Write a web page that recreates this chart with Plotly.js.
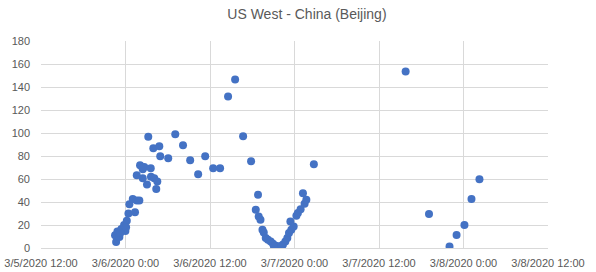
<!DOCTYPE html>
<html>
<head>
<meta charset="utf-8">
<script src="https://cdn.plot.ly/plotly-3.0.1.min.js"></script>
<style>html,body{margin:0;padding:0;background:#fff;}#chart{width:596px;height:272px;}</style>
</head>
<body>
<div id="chart"></div>
<script>
var times = [
"2020-03-05 22:31","2020-03-05 22:40","2020-03-05 22:51","2020-03-05 23:08","2020-03-05 23:25",
"2020-03-05 23:48","2020-03-05 23:59","2020-03-06 00:11","2020-03-06 00:25","2020-03-06 00:33",
"2020-03-06 01:02","2020-03-06 01:21","2020-03-06 01:36","2020-03-06 01:58","2020-03-06 01:36",
"2020-03-06 02:04","2020-03-06 02:27","2020-03-06 02:40","2020-03-06 02:27","2020-03-06 03:03",
"2020-03-06 03:14","2020-03-06 03:35","2020-03-06 03:37","2020-03-06 03:57","2020-03-06 04:05",
"2020-03-06 04:22","2020-03-06 04:31","2020-03-06 04:48","2020-03-06 04:56","2020-03-06 06:04",
"2020-03-06 07:04","2020-03-06 08:10","2020-03-06 09:11","2020-03-06 10:19","2020-03-06 11:19",
"2020-03-06 12:27","2020-03-06 13:26","2020-03-06 14:34","2020-03-06 15:34","2020-03-06 16:42",
"2020-03-06 17:50","2020-03-06 18:49","2020-03-06 18:30","2020-03-06 18:55","2020-03-06 19:10",
"2020-03-06 19:27","2020-03-06 19:38","2020-03-06 19:55","2020-03-06 20:14","2020-03-06 20:37",
"2020-03-06 20:57","2020-03-06 21:20","2020-03-06 21:39","2020-03-06 22:02","2020-03-06 22:22",
"2020-03-06 22:42","2020-03-06 22:59","2020-03-06 23:13","2020-03-06 23:25","2020-03-06 23:33",
"2020-03-06 23:53","2020-03-07 00:16","2020-03-07 00:29","2020-03-07 00:52","2020-03-07 01:12",
"2020-03-07 01:26","2020-03-07 01:41","2020-03-07 02:45","2020-03-07 15:47","2020-03-07 19:06",
"2020-03-07 22:01","2020-03-07 23:01","2020-03-08 00:08","2020-03-08 01:08","2020-03-08 02:16",
"2020-03-06 21:50","2020-03-06 21:05","2020-03-06 22:12","2020-03-05 23:15","2020-03-06 00:05"
];
var latency = [
11,5.2,14.4,9.5,16.5,
20,14.7,23.7,30,38,
42.7,31,41.3,41.3,63.3,
72,68.5,70.5,60.7,55.2,
96.8,69.4,62,86.7,60.7,
51.2,57.8,88.5,79.8,78,
98.9,89.3,76.3,64.2,79.8,
69.4,69.4,131.8,146.6,97.1,
75.5,46.2,33.2,27.4,24.5,
15.9,13.5,8.7,7.2,5.7,
3.7,2,1.4,1.4,3,
5.7,8.7,13,23,15.9,
18.7,28,30.4,33.8,47.7,
38.4,41.9,72.9,153.5,29.5,
1.4,11.3,20,42.5,59.8,
1.2,1.6,1.8,13,18
];
var xTicks = ["2020-03-05 12:00","2020-03-06 00:00","2020-03-06 12:00","2020-03-07 00:00","2020-03-07 12:00","2020-03-08 00:00","2020-03-08 12:00"];
var xTickText = ["3/5/2020 12:00","3/6/2020 0:00","3/6/2020 12:00","3/7/2020 0:00","3/7/2020 12:00","3/8/2020 0:00","3/8/2020 12:00"];
var titleText = "US West - China (Beijing)";

var trace = {
  x: times, y: latency, type: "scatter", mode: "markers",
  marker: {color: "#4472C4", size: 8},
  hoverinfo: "x+y"
};
var layout = {
  width: 596, height: 272,
  margin: {l: 41, r: 48, t: 41, b: 24},
  paper_bgcolor: "#ffffff", plot_bgcolor: "#ffffff",
  font: {family: "Liberation Sans, Arial, sans-serif", color: "#595959", size: 11},
  title: {text: titleText, x: 0.515, xanchor: "center", y: 0.965, yanchor: "top",
          font: {family: "Liberation Sans, Arial, sans-serif", size: 14, color: "#595959"}},
  showlegend: false,
  xaxis: {
    type: "date", range: [xTicks[0], xTicks[xTicks.length-1]],
    tickmode: "array", tickvals: xTicks, ticktext: xTickText,
    tickangle: 0, showgrid: true, gridcolor: "#d9d9d9", gridwidth: 1,
    zeroline: false, showline: true, linecolor: "#d9d9d9", ticks: "",
    ticklabelstandoff: 5,
    tickfont: {size: 11, color: "#595959"}
  },
  yaxis: {
    range: [0, 180], dtick: 20, tick0: 0,
    showgrid: true, gridcolor: "#d9d9d9", gridwidth: 1,
    zeroline: false, showline: false, ticks: "", ticklabelstandoff: 10,
    tickfont: {size: 11, color: "#595959"}
  }
};
Plotly.newPlot("chart", [trace], layout, {displayModeBar: false, staticPlot: true});
</script>
</body>
</html>
